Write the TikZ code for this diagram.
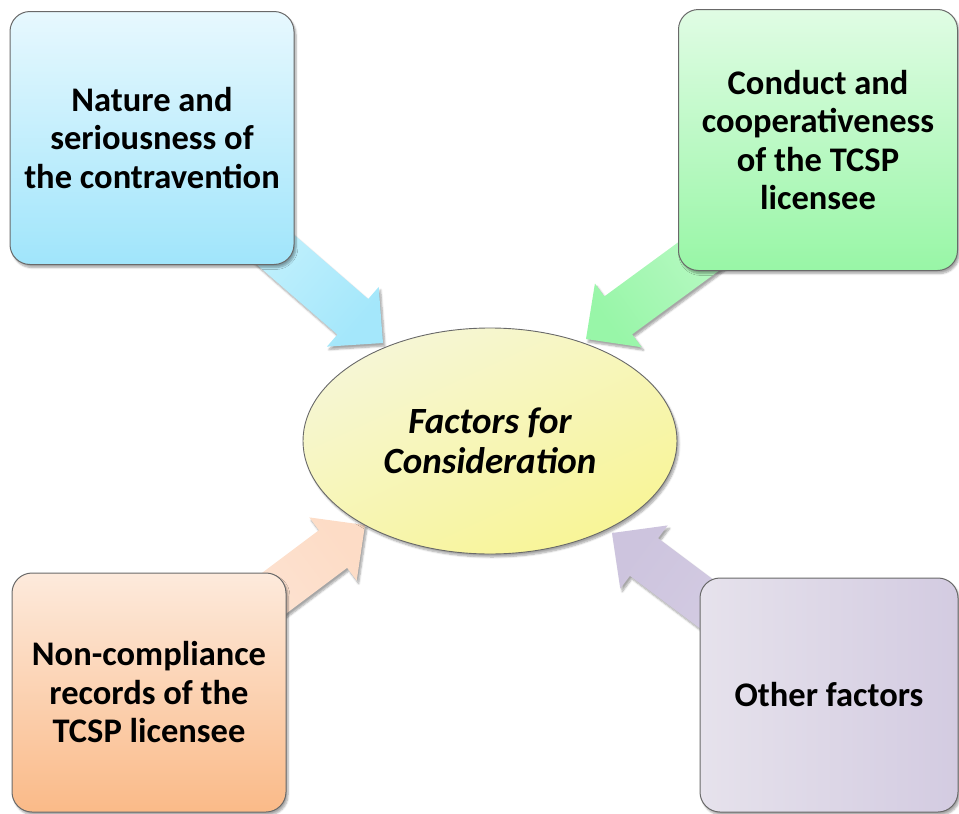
\documentclass[tikz,border=0pt]{standalone}
\usepackage{fontspec}
\setmainfont{Carlito}
\usetikzlibrary{calc,shapes.geometric,shadows.blur}

\definecolor{bAt}{RGB}{231,248,254}
\definecolor{bAb}{RGB}{160,229,251}
\definecolor{bBt}{RGB}{224,252,228}
\definecolor{bBb}{RGB}{152,246,166}
\definecolor{bCt}{RGB}{253,234,220}
\definecolor{bCb}{RGB}{250,186,136}
\definecolor{bDl}{RGB}{230,226,236}
\definecolor{bDr}{RGB}{211,203,225}
\definecolor{elA}{RGB}{246,246,214}
\definecolor{elB}{RGB}{248,245,150}
\definecolor{aAs}{RGB}{202,243,253}
\definecolor{aAt}{RGB}{164,231,251}
\definecolor{aBs}{RGB}{192,249,202}
\definecolor{aBt}{RGB}{152,246,168}
\definecolor{aCs}{RGB}{253,230,216}
\definecolor{aCt}{RGB}{253,220,198}
\definecolor{aDs}{RGB}{214,206,228}
\definecolor{aDt}{RGB}{205,196,222}
\definecolor{edge}{RGB}{105,105,105}

\newcommand{\fatarrow}[5]{% start, tip, back colour, tip colour, shading angle
  \coordinate (hb) at ($(#2)!40pt!(#1)$);
  \path[blur shadow={shadow xshift=2pt,shadow yshift=-3pt,shadow blur steps=6,shadow opacity=35},
        top color=#3, bottom color=#4, shading angle=#5]
    ($(#1)!23.5pt!90:(#2)$) -- ($(hb)!23.5pt!-90:(#1)$) -- ($(hb)!39.5pt!-90:(#1)$)
    -- (#2) -- ($(hb)!39.5pt!90:(#1)$) -- ($(hb)!23.5pt!90:(#1)$)
    -- ($(#1)!23.5pt!-90:(#2)$) -- cycle;
}

\begin{document}
\begin{tikzpicture}[x=1pt,y=-1pt,
  boxstyle/.style={draw=edge, line width=1pt, rounded corners=20pt, align=center,
    inner sep=0pt, font=\fontsize{34.5}{38.5}\selectfont\bfseries,
    blur shadow={shadow xshift=2pt,shadow yshift=-3pt,shadow blur steps=6,shadow opacity=35}},
  ellstyle/.style={ellipse, draw=edge, line width=0.9pt, inner sep=0pt, align=center,
    font=\fontsize{37}{40}\selectfont\bfseries\itshape,
    blur shadow={shadow xshift=2pt,shadow yshift=-3pt,shadow blur steps=6,shadow opacity=35}}]
\useasboundingbox (0,0) rectangle (959,814);

% arrow end points
\coordinate (s1) at (232,212);  \coordinate (t1) at (383,343);
\coordinate (s2) at (747,221);  \coordinate (t2) at (586,339);
\coordinate (s3) at (205,645);  \coordinate (t3) at (365,525);
\coordinate (s4) at (772,653);  \coordinate (t4) at (612,533);

\fatarrow{s1}{t1}{aAs}{aAt}{49}
\fatarrow{s2}{t2}{aBs}{aBt}{-54}
\fatarrow{s3}{t3}{aCs}{aCt}{127}
\fatarrow{s4}{t4}{aDs}{aDt}{-127}

\node[boxstyle, top color=bAt, bottom color=bAb, minimum width=284pt, minimum height=253pt]
  (nature) at (152,138) {Nature and\\seriousness of\\the contravention};
\node[boxstyle, top color=bBt, bottom color=bBb, minimum width=279pt, minimum height=261pt]
  (conduct) at (818,140) {Conduct and\\cooperativeness\\of the TCSP\\licensee};
\node[boxstyle, top color=bCt, bottom color=bCb, minimum width=274pt, minimum height=239pt]
  (noncomp) at (149,692.5) {Non-compliance\\records of the\\TCSP licensee};
\node[boxstyle, left color=bDl, right color=bDr, minimum width=258pt, minimum height=234pt]
  (other) at (829,695) {Other factors};

\node[ellstyle, top color=elA, bottom color=elB, shading angle=25,
      minimum width=374pt, minimum height=226pt]
  (center) at (490,441) {Factors for\\Consideration};
\end{tikzpicture}
\end{document}
